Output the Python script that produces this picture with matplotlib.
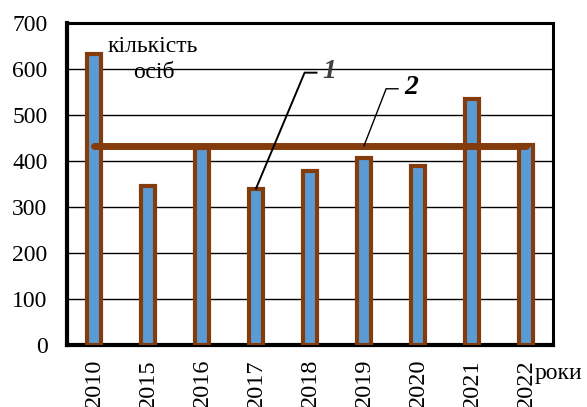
import matplotlib
matplotlib.use("Agg")
import matplotlib.pyplot as plt

years = ["2010", "2015", "2016", "2017", "2018", "2019", "2020", "2021", "2022"]
persons = [633, 346, 428, 339, 378, 406, 389, 535, 435]
mean_value = 433
y_ticks = [0, 100, 200, 300, 400, 500, 600, 700]

plt.rcParams['font.family'] = ['Liberation Serif', 'DejaVu Serif']

fig = plt.figure(figsize=(5.87, 4.07), dpi=100)
ax = fig.add_axes([67/587, 1-345/407, (553-67)/587, (345-23)/407])

x = list(range(len(years)))
ax.bar(x, persons, width=0.27, color='#5b9bd5', edgecolor='#843c0c', linewidth=3, zorder=3)
ax.plot([x[0], x[-1]], [mean_value, mean_value], color='#843c0c', linewidth=5,
        solid_capstyle='round', zorder=4)

ax.set_xlim(-0.5, len(years) - 0.5)
ax.set_ylim(0, 700)
ax.set_yticks(y_ticks)
ax.set_yticklabels([str(v) for v in y_ticks], fontsize=17)
ax.set_xticks(x)
ax.set_xticklabels(years, rotation=90, fontsize=17.5)
ax.tick_params(axis='y', length=0, pad=14)
ax.tick_params(axis='x', length=0, pad=10)
ax.grid(axis='y', color='black', linewidth=1, zorder=0)
ax.set_axisbelow(True)
for s in ['left', 'bottom']:
    ax.spines[s].set_linewidth(3)
for s in ['top', 'right']:
    ax.spines[s].set_linewidth(2.2)

ax.text(0.26, 648, "кількість", fontsize=17, ha='left', va='center', zorder=5)
ax.text(1.11, 593, "осіб", fontsize=17, ha='center', va='center', zorder=5)
fig.text(535/587, 1-373/407, "роки", fontsize=17, ha='left', va='center')

# leader for 1 (bar)
ax.plot([3.0, 3.9, 4.12], [340, 592, 592], color='black', linewidth=1.4, zorder=5)
ax.text(4.22, 594, "1", fontsize=20, fontweight='bold', fontstyle='italic',
        color='#404040', ha='left', va='center', zorder=5)
# leader for 2 (mean line)
ax.plot([5.0, 5.41, 5.63], [433, 557, 557], color='black', linewidth=1.0, zorder=5)
ax.text(5.74, 559, "2", fontsize=20, fontweight='bold', fontstyle='italic',
        color='black', ha='left', va='center', zorder=5)

fig.savefig("out.png", dpi=100)
